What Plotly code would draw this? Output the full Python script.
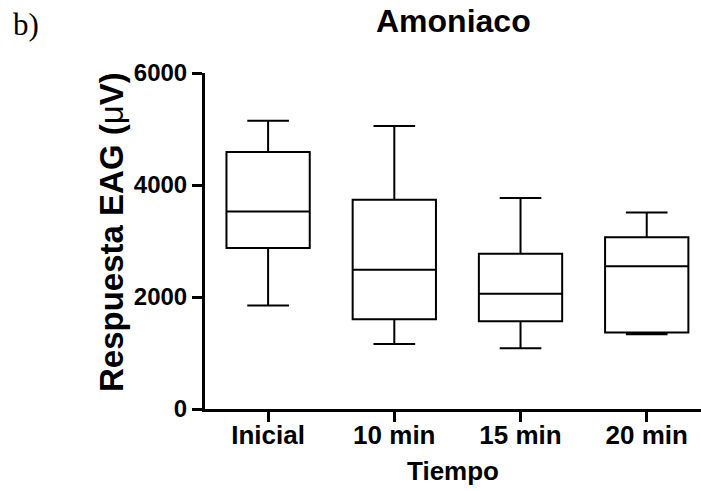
import plotly.graph_objects as go

# EAG response to ammonia over time (min/max whiskers, quartile boxes)
categories = ["Inicial", "10 min", "15 min", "20 min"]
minimum = [1847, 1162, 1085, 1335]
q1 = [2873, 1603, 1568, 1364]
median = [3527, 2485, 2056, 2551]
q3 = [4588, 3736, 2771, 3069]
maximum = [5148, 5053, 3766, 3509]

y_ticks = [0, 2000, 4000, 6000]

W, H = 701, 491
L, R, T, B = 205, 0, 73, 82
plot_w = W - L - R
plot_h = H - T - B

sans = "Liberation Sans, Arial, sans-serif"

fig = go.Figure()
fig.add_trace(go.Box(
    x=categories,
    q1=q1,
    median=median,
    q3=q3,
    lowerfence=minimum,
    upperfence=maximum,
    fillcolor="white",
    line=dict(color="black", width=2),
    whiskerwidth=0.5,
    boxpoints=False,
    showlegend=False,
))


def px_x(x):
    return (x - L) / plot_w


def px_y(y):
    return (H - B - y) / plot_h


fig.update_layout(
    width=W,
    height=H,
    margin=dict(l=L, r=R, t=T, b=B, pad=0),
    paper_bgcolor="white",
    plot_bgcolor="white",
    boxgap=0.34,
    boxgroupgap=0,
    xaxis=dict(
        type="category",
        range=[-0.5, 3.43],
        showline=True,
        linecolor="black",
        linewidth=3,
        ticks="outside",
        ticklen=10,
        tickwidth=2.5,
        tickcolor="black",
        showgrid=False,
        zeroline=False,
        ticklabelstandoff=-9,
        tickfont=dict(family=sans, size=26, color="black", weight="bold"),
    ),
    yaxis=dict(
        range=[0, 6000],
        tickvals=y_ticks,
        ticktext=[str(v) for v in y_ticks],
        showline=True,
        linecolor="black",
        linewidth=3,
        ticks="outside",
        ticklen=10,
        tickwidth=2.5,
        tickcolor="black",
        showgrid=False,
        zeroline=False,
        tickfont=dict(family=sans, size=24, color="black", weight="bold"),
    ),
    annotations=[
        dict(
            text="Amoniaco",
            xref="paper", yref="paper",
            x=0.5, y=px_y(21),
            xanchor="center", yanchor="middle",
            showarrow=False,
            font=dict(family=sans, size=32, color="black", weight="bold"),
        ),
        dict(
            text="b)",
            xref="paper", yref="paper",
            x=px_x(11), y=px_y(24),
            xanchor="left", yanchor="middle",
            showarrow=False,
            font=dict(family="Liberation Serif, Times New Roman, serif", size=31, color="black"),
        ),
        dict(
            text="Tiempo",
            xref="paper", yref="paper",
            x=0.5, y=px_y(471),
            xanchor="center", yanchor="middle",
            showarrow=False,
            font=dict(family=sans, size=26, color="black", weight="bold"),
        ),
        dict(
            text="Respuesta EAG (<span style='font-weight:normal'>μ</span>V)",
            xref="paper", yref="paper",
            x=px_x(111), y=px_y(232),
            xanchor="center", yanchor="middle",
            textangle=-90,
            showarrow=False,
            font=dict(family=sans, size=33, color="black", weight="bold"),
        ),
    ],
)

fig.write_html("out.html")
